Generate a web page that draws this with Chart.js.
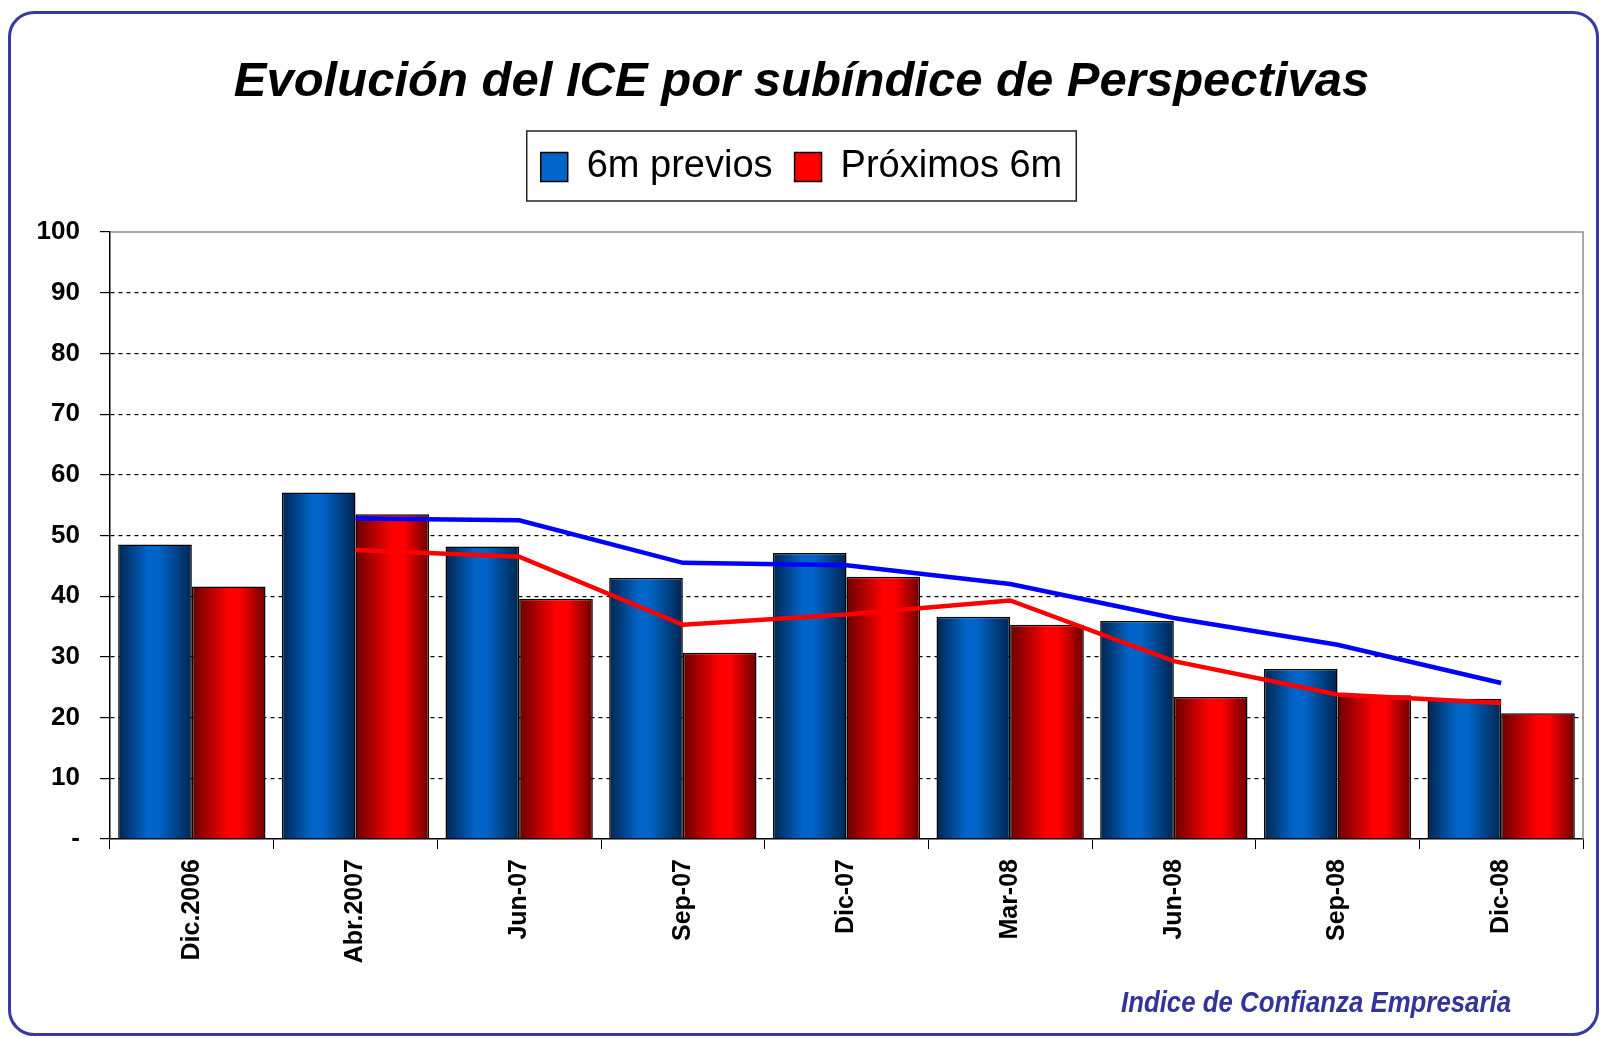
<!DOCTYPE html>
<html lang="es">
<head>
<meta charset="UTF-8">
<title>Evolución del ICE por subíndice de Perspectivas</title>
<script src="https://cdn.jsdelivr.net/npm/chart.js"></script>
<style>
  html, body { margin: 0; padding: 0; background: #fff; }
  #marco { position: absolute; left: 8px; top: 11px; width: 1591px; height: 1025px;
           box-sizing: border-box; border: 3px solid #3a3a9e; border-radius: 26px; }
  #ice { position: absolute; left: 0; top: 0; }
</style>
</head>
<body>
<div id="marco"></div>
<canvas id="ice" width="1601" height="1038"></canvas>
<script>
// datos
const periodos = ['Dic.2006', 'Abr.2007', 'Jun-07', 'Sep-07', 'Dic-07', 'Mar-08', 'Jun-08', 'Sep-08', 'Dic-08'];
const previos = [48.5, 57.1, 48.2, 43.0, 47.1, 36.6, 35.9, 28.0, 23.1];
const proximos = [41.6, 53.5, 39.6, 30.7, 43.2, 35.3, 23.4, 23.7, 20.7];
const tendPrevios = [null, 52.8, 52.5, 45.5, 45.1, 42.0, 36.4, 32.0, 25.7];
const tendProximos = [null, 47.6, 46.5, 35.3, 37.0, 39.3, 29.3, 23.8, 22.4];
const yTicks = [0, 10, 20, 30, 40, 50, 60, 70, 80, 90, 100];

const GRUPO = 0.9;
const AZUL = '#0064c8';
const ROJO = '#ff0000';

// degradado horizontal de cada barra (oscuro en los bordes)
function relleno(lado, oscuro, claro, pico) {
  return function (c) {
    const chart = c.chart;
    if (c.type !== 'data' || !chart.chartArea) return claro;
    const xs = chart.scales.x;
    const ancho = (xs.right - xs.left) / periodos.length * GRUPO;
    const centro = xs.getPixelForValue(c.dataIndex);
    const x0 = lado === 0 ? centro - ancho / 2 : centro;
    const g = chart.ctx.createLinearGradient(x0, 0, x0 + ancho / 2, 0);
    g.addColorStop(0, oscuro);
    g.addColorStop(pico, claro);
    g.addColorStop(pico + 0.15, claro);
    g.addColorStop(1, oscuro);
    return g;
  };
}

const marcoLeyenda = {
  id: 'marcoLeyenda',
  afterDraw(chart) {
    const cajas = chart.legend.legendHitBoxes;
    if (!cajas || !cajas.length) return;
    const izq = Math.min(...cajas.map(b => b.left)) - 14;
    const der = Math.max(...cajas.map(b => b.left + b.width)) + 14;
    const arr = cajas[0].top - 17;
    const aba = cajas[0].top + cajas[0].height + 15;
    const ctx = chart.ctx;
    ctx.save();
    ctx.strokeStyle = '#222';
    ctx.lineWidth = 1.5;
    ctx.strokeRect(izq, arr, der - izq, aba - arr);
    ctx.restore();
  }
};

const bordePlot = {
  id: 'bordePlot',
  beforeDatasetsDraw(chart) {
    const a = chart.chartArea, ctx = chart.ctx;
    ctx.save();
    ctx.strokeStyle = '#8c8c8c';
    ctx.lineWidth = 1.5;
    ctx.beginPath();
    ctx.moveTo(a.left, a.top);
    ctx.lineTo(a.right, a.top);
    ctx.lineTo(a.right, a.bottom);
    ctx.stroke();
    ctx.restore();
  }
};

// texto de la fuente, estrecho como en el original
const pie = {
  id: 'pie',
  afterDraw(chart) {
    const ctx = chart.ctx;
    ctx.save();
    ctx.translate(1511, 1012);
    ctx.scale(0.86, 1);
    ctx.font = 'italic bold 30px "Liberation Sans", Arial, sans-serif';
    ctx.fillStyle = '#333399';
    ctx.textAlign = 'right';
    ctx.textBaseline = 'alphabetic';
    ctx.fillText('Indice de Confianza Empresaria', 0, 0);
    ctx.restore();
  }
};

new Chart(document.getElementById('ice'), {
  type: 'bar',
  data: {
    labels: periodos,
    datasets: [
      {
        label: '6m previos',
        data: previos,
        backgroundColor: relleno(0, '#00254f', AZUL, 0.4),
        borderColor: '#000',
        borderWidth: 1.5,
        categoryPercentage: GRUPO,
        barPercentage: 1.0,
        order: 2
      },
      {
        label: 'Próximos 6m',
        data: proximos,
        backgroundColor: relleno(1, '#6a0000', ROJO, 0.5),
        borderColor: '#000',
        borderWidth: 1.5,
        categoryPercentage: GRUPO,
        barPercentage: 1.0,
        order: 2
      },
      {
        type: 'line',
        label: 'Tendencia previos',
        data: tendPrevios,
        borderColor: '#0000ff',
        borderWidth: 4.5,
        pointRadius: 0,
        tension: 0,
        order: 0
      },
      {
        type: 'line',
        label: 'Tendencia próximos',
        data: tendProximos,
        borderColor: '#ff0000',
        borderWidth: 4.5,
        pointRadius: 0,
        tension: 0,
        order: 1
      }
    ]
  },
  options: {
    responsive: false,
    animation: false,
    layout: { padding: { top: 0, left: 20, right: 18, bottom: 49 } },
    plugins: {
      title: {
        display: true,
        text: 'Evolución del ICE por subíndice de Perspectivas',
        color: '#000',
        font: { family: '"Liberation Sans", Arial, sans-serif', size: 49, weight: 'bold', style: 'italic' },
        padding: { top: 52.6, bottom: 14.6 }
      },
      legend: {
        display: true,
        position: 'top',
        labels: {
          color: '#000',
          font: { family: '"Liberation Sans", Arial, sans-serif', size: 38 },
          boxWidth: 27,
          boxHeight: 29,
          padding: 22,
          filter: item => item.datasetIndex < 2,
          generateLabels: chart => Chart.defaults.plugins.legend.labels.generateLabels(chart)
            .map(it => Object.assign(it, { fillStyle: [AZUL, ROJO][it.datasetIndex] || it.fillStyle }))
        }
      },
      // espacio entre la leyenda y el area del grafico
      subtitle: {
        display: true,
        text: '',
        position: 'top',
        weight: 500,
        font: { size: 10 },
        padding: { top: 0, bottom: 24 }
      },
      tooltip: { enabled: false }
    },
    scales: {
      x: {
        afterFit: s => { s.height = 150; },
        grid: { display: true, drawOnChartArea: false, offset: true, color: '#000', tickLength: 10 },
        border: { display: true, color: '#000', width: 1.5 },
        ticks: {
          color: '#000',
          minRotation: 90,
          maxRotation: 90,
          padding: 10,
          font: { family: '"Liberation Sans", Arial, sans-serif', size: 25, weight: 'bold' }
        }
      },
      y: {
        min: 0,
        max: 100,
        afterFit: s => { s.width = 90; },
        afterBuildTicks: s => { s.ticks = yTicks.map(v => ({ value: v })); },
        grid: {
          color: c => (c.tick && (c.tick.value === 0 || c.tick.value === 100)) ? 'rgba(0,0,0,0)' : '#000',
          tickColor: '#000',
          lineWidth: 1.2,
          tickLength: 10
        },
        border: { display: true, color: '#000', width: 1.5, dash: [4, 4] },
        ticks: {
          color: '#000',
          padding: 20,
          autoSkip: false,
          font: { family: '"Liberation Sans", Arial, sans-serif', size: 26, weight: 'bold' },
          callback: v => v === 0 ? '-' : v
        }
      }
    }
  },
  plugins: [bordePlot, marcoLeyenda, pie]
});
</script>
</body>
</html>
